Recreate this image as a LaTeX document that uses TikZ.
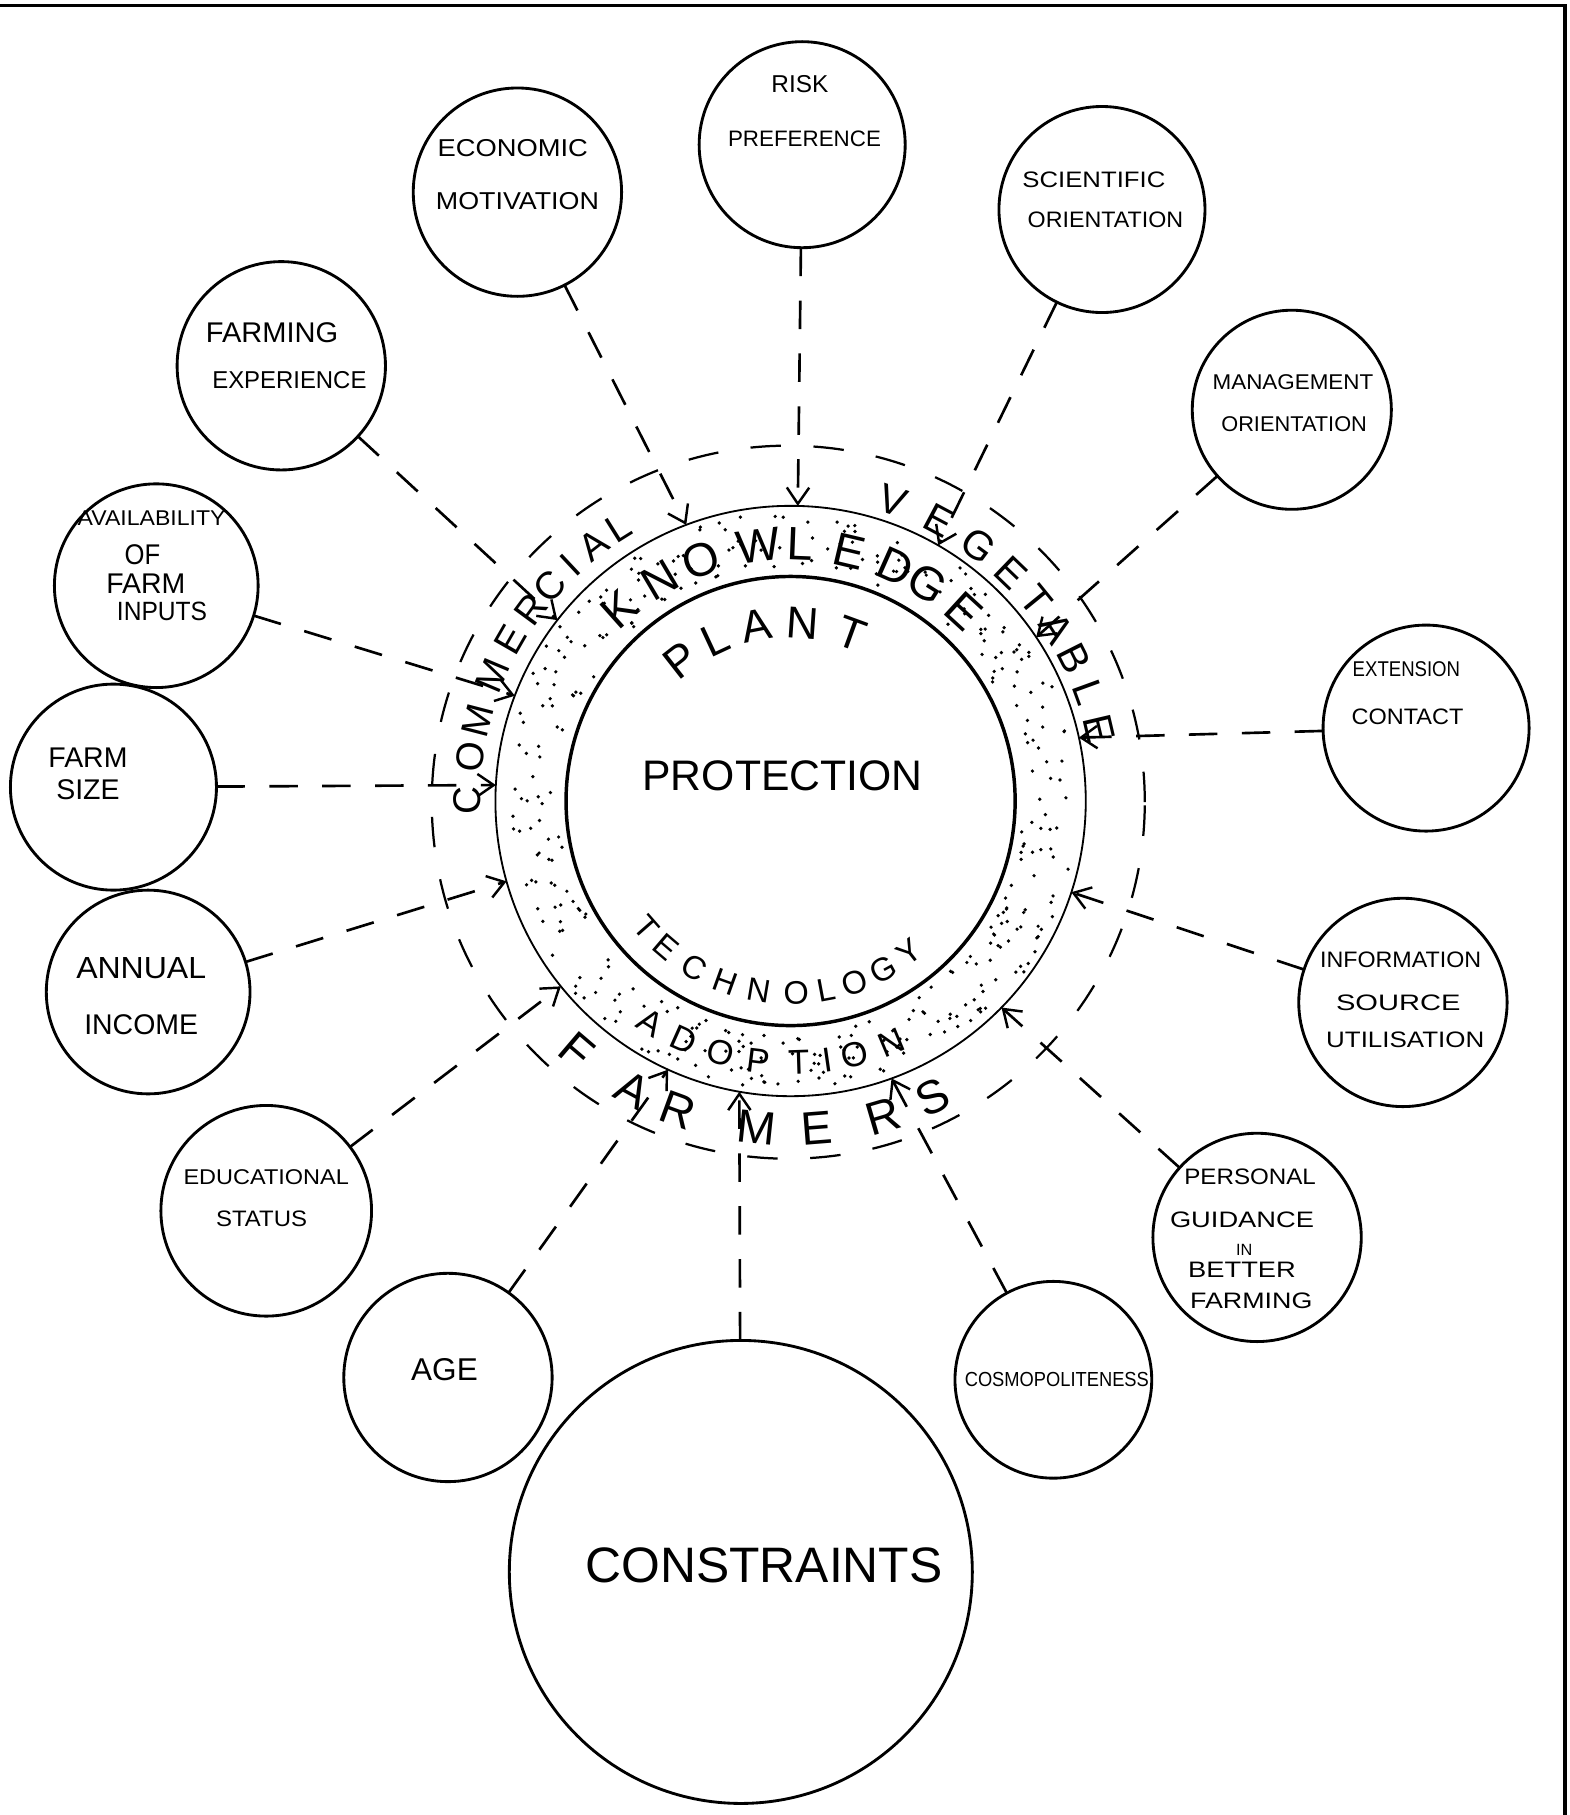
\documentclass[tikz,border=0pt]{standalone}
\usepackage{fontspec}
\setmainfont{Liberation Sans}
\usetikzlibrary{arrows.meta,calc}
\begin{document}
\begin{tikzpicture}[x=0.02cm,y=0.02cm,
  sat/.style={draw,circle,line width=1.4pt,inner sep=0pt,outer sep=0pt,minimum size=#1*0.02cm},
  fs/.style={font=\fontsize{#1}{#1}\selectfont},
  lbl/.style={inner sep=0pt,outer sep=0pt,anchor=center},
  conn/.style={line width=1.3pt,dash pattern=on 14pt off 12pt,-{Straight Barb[length=8pt,width=11pt,line width=1.2pt]}},
  rl/.style={inner sep=0pt,outer sep=0pt}
]
\useasboundingbox (0,0) rectangle (1356,-1568);
\coordinate (C) at (683,-692);
% frame lines
\coordinate (b1) at (0,-5);
\coordinate (b2) at (1352,-5);
\coordinate (b3) at (1352,-1568);
\draw[line width=1.6pt] (b1) -- (b2) -- (b3);

% stipple in the ring (scattered dots)
\begin{scope}[shift={(683,-692)}]
\foreach \k in {1,...,360}{
  \pgfmathsetmacro\ua{mod(abs(937.585*sin(\k*7.8233)),1)}
  \pgfmathsetmacro\ub{mod(abs(751.37*sin(\k*3.971+17)),1)}
  \pgfmathsetmacro\aa{360*\ua}
  \pgfmathsetmacro\rr{201+49*\ub}
  \fill (\aa:\rr) circle[radius=1.6];
}
\end{scope}

% central circles
\node[draw,circle,line width=1.7pt,inner sep=0pt,minimum size=388*0.02cm] (inner) at (C) {};
\node[draw,circle,line width=0.9pt,inner sep=0pt,minimum size=510*0.02cm] (ring) at (C) {};
\node[draw,circle,line width=1.1pt,dash pattern=on 15pt off 16pt,inner sep=0pt,minimum size=616*0.02cm] (dcirc) at (681,-693) {};

\node[lbl,fs=21] (prot) at (676,-670) {PROTECTION};

% curved words
\foreach \ch/\ang [count=\i] in {P/128,L/115,A/101,N/86,T/70}
  \node[rl,fs=22,rotate=\ang-90] (pl\i) at ($(C)+(\ang:154)$) {\ch};
\foreach \ch/\ang [count=\i] in {K/131.8,N/120.6,O/110.5,W/97.3,L/87.8,E/76.7,D/66,G/57.7,E/47.5}
  \node[rl,fs=23,rotate=\ang-90] (kn\i) at ($(C)+(\ang:222)$) {\ch};
\foreach \ch/\ang [count=\i] in {C/180,O/172.2,M/165.5,M/157.2,E/150.1,R/143.6,C/138.3,I/133.1,A/127.7,L/122.1}
  \node[rl,fs=19,rotate=\ang-90] (com\i) at ($(C)+(\ang:279)$) {\ch};
\foreach \ch/\ang [count=\i] in {V/71.2,E/62,G/53.6,E/46.1,T/39.2,A/32.9,B/26.7,L/20,E/13.2}
  \node[rl,fs=20,rotate=\ang-90] (veg\i) at ($(C)+(\ang:274)$) {\ch};
\foreach \ch/\ang [count=\i] in {T/221.2,E/229.5,C/240,H/250.2,N/260.5,O/271.7,L/280.6,O/289.4,G/298.7,Y/308}
  \node[rl,fs=16,rotate=\ang+90] (tec\i) at ($(C)+(\ang:166)$) {\ch};
\foreach \ch/\ang [count=\i] in {A/237.7,D/245.9,O/254.5,P/263,T/271.8,I/278.2,O/284.1,N/292.7}
  \node[rl,fs=17,rotate=\ang+90] (ado\i) at ($(C)+(\ang:226)$) {\ch};
\foreach \ch/\ang [count=\i] in {F/229.5,A/241.4,R/250,M/264,E/274.5,R/286.3,S/295.6}
  \node[rl,fs=23,rotate=\ang+90] (far\i) at ($(C)+(\ang:284)$) {\ch};

% satellite circles
\node[sat=178] (risk) at (693,-125) {};
\node[lbl,fs=12] (riskA) at (691,-73) {RISK};
\node[lbl,fs=11,xscale=1.0] (riskB) at (695,-120) {PREFERENCE};

\node[sat=180] (econ) at (447,-166) {};
\node[lbl,fs=12,xscale=1.12] (econA) at (443,-128) {ECONOMIC};
\node[lbl,fs=12,xscale=1.1] (econB) at (447,-174) {MOTIVATION};

\node[sat=178] (sci) at (952,-181) {};
\node[lbl,fs=11,xscale=1.15] (sciA) at (945,-155) {SCIENTIFIC};
\node[lbl,fs=11,xscale=1.04] (sciB) at (955,-190) {ORIENTATION};

\node[sat=172] (man) at (1116,-354) {};
\node[lbl,fs=10.5,xscale=1.05] (manA) at (1117,-330) {MANAGEMENT};
\node[lbl,fs=10.5,xscale=1.02] (manB) at (1118,-366) {ORIENTATION};

\node[sat=178] (ext) at (1232,-629) {};
\node[lbl,fs=10.5,xscale=0.87] (extA) at (1215,-578) {EXTENSION};
\node[lbl,fs=11,xscale=1.05] (extB) at (1216,-619) {CONTACT};

\node[sat=180] (info) at (1212,-866) {};
\node[lbl,fs=11,xscale=1.04] (infoA) at (1210,-829) {INFORMATION};
\node[lbl,fs=11,xscale=1.3] (infoB) at (1208,-866) {SOURCE};
\node[lbl,fs=11,xscale=1.16] (infoC) at (1214,-898) {UTILISATION};

\node[sat=180] (pers) at (1086,-1069) {};
\node[lbl,fs=11,xscale=1.08] (persA) at (1080,-1017) {PERSONAL};
\node[lbl,fs=11,xscale=1.22] (persB) at (1073,-1054) {GUIDANCE};
\node[lbl,fs=8] (persC) at (1075,-1080) {IN};
\node[lbl,fs=11,xscale=1.22] (persD) at (1073,-1097) {BETTER};
\node[lbl,fs=11,xscale=1.2] (persE) at (1081,-1124) {FARMING};

\node[sat=170] (cosmo) at (910,-1192) {};
\node[lbl,fs=10,xscale=0.9] (cosmoA) at (913,-1192) {COSMOPOLITENESS};

\node[sat=400] (cons) at (640,-1358) {};
\node[lbl,fs=24.5] (consA) at (660,-1352) {CONSTRAINTS};

\node[sat=180] (age) at (387,-1190) {};
\node[lbl,fs=15.5] (ageA) at (384,-1183) {AGE};

\node[sat=182] (edu) at (230,-1046) {};
\node[lbl,fs=10.5,xscale=1.1] (eduA) at (230,-1017) {EDUCATIONAL};
\node[lbl,fs=11,xscale=1.07] (eduB) at (226,-1053) {STATUS};

\node[sat=176] (ann) at (128,-857) {};
\node[lbl,fs=15,xscale=1.05] (annA) at (122,-836) {ANNUAL};
\node[lbl,fs=14] (annB) at (122,-885) {INCOME};

\node[sat=178] (fsz) at (98,-680) {};
\node[lbl,fs=14] (fszA) at (76,-655) {FARM};
\node[lbl,fs=14] (fszB) at (76,-682) {SIZE};

\node[sat=176] (avail) at (135,-506) {};
\node[lbl,fs=10.5,xscale=1.08] (availA) at (131,-448) {AVAILABILITY};
\node[lbl,fs=14,xscale=0.9] (availB) at (123,-479) {OF};
\node[lbl,fs=14] (availC) at (126,-504) {FARM};
\node[lbl,fs=13,xscale=0.93] (availD) at (140,-528) {INPUTS};

\node[sat=180] (fexp) at (243,-316) {};
\node[lbl,fs=14,xscale=1.02] (fexpA) at (235,-287) {FARMING};
\node[lbl,fs=12,xscale=0.98] (fexpB) at (250,-328) {EXPERIENCE};

% arrow targets on the ring
\foreach \n/\a in {tRisk/88.6,tEcon/110.7,tFexp/142.2,tAvail/159.1,tFsz/176.9,tAnn/195.8,tEdu/218.9,tAge/245.5,tCons/260,tCosmo/290,tPers/315.6,tInfo/342,tExt/12.4,tMan/33.7,tSci/60}
  \coordinate (\n) at ($(C)+(\a:255)$);

% connectors
\draw[conn] (risk) -- (tRisk);
\draw[conn] (econ) -- (tEcon);
\draw[conn] (fexp) -- (tFexp);
\draw[conn] (avail) -- (tAvail);
\draw[conn] (fsz) -- (tFsz);
\draw[conn] (ann) -- (tAnn);
\draw[conn] (edu) -- (tEdu);
\draw[conn] (age) -- (tAge);
\draw[conn] (cons) -- (tCons);
\draw[conn] (cosmo) -- (tCosmo);
\draw[conn] (pers) -- (tPers);
\draw[conn] (info) -- (tInfo);
\draw[conn] (ext) -- (tExt);
\draw[conn] (man) -- (tMan);
\draw[conn] (sci) -- (tSci);
\end{tikzpicture}
\end{document}
